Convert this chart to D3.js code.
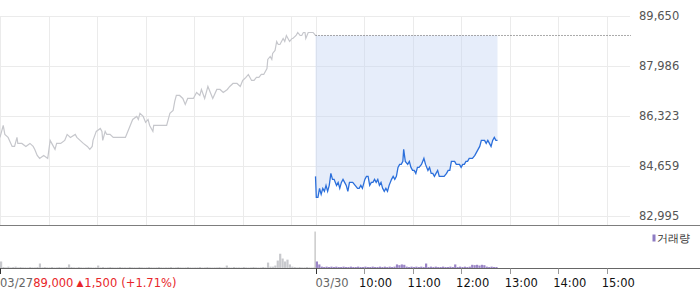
<!DOCTYPE html>
<html>
<head>
<meta charset="utf-8">
<script src="https://cdn.jsdelivr.net/npm/d3@7"></script>
<style>
  body { margin: 0; background: #fff; }
  text { font-family: "DejaVu Sans", sans-serif; }
</style>
</head>
<body>
<svg id="chart"></svg>
<script>
// intraday price chart, two sessions (03/27 and 03/30) with volume below

// DATA
// minutes after 9:00 for each session, and price at that minute
let day1Min = [0,4,6,10,15,18,21,22,27,32,37,41,43,46,49,54,59,62,64,68,70,75,80,83,87,93,95,99,103,108,111,114,115,119,124,126,127,130,132,136,140,145,152,155,158,161,164,169,171,173,177,180,183,185,189,190,194,198,206,208,210,214,216,218,222,226,229,232,239,243,247,249,253,257,260,263,268,272,276,281,284,288,293,297,300,304,307,309,311,314,317,320,323,326,330,331,334,336,337,340,342,344,346,350,352,354,356,358,361,362,366,368,371,373,375,377,378,381,384,387,390];
let day1Price = [85600,86000,85700,85600,85300,85300,85600,85400,85400,85300,85400,85300,85200,85000,84900,85000,84900,85500,85400,85200,85400,85400,85500,85700,85600,85700,85600,85500,85400,85300,85200,85300,85500,85800,85900,85800,85500,85800,85700,85700,85600,85600,85600,85600,85800,86000,86200,86300,86200,86400,86300,86100,86200,86000,85800,86000,86000,86000,86000,86200,86400,86500,86800,87000,87000,86900,86700,86900,86900,87100,87000,87200,86900,87300,87100,86900,87200,87200,87100,87200,87300,87400,87400,87300,87500,87600,87700,87600,87500,87500,87600,87600,87700,87700,87900,88200,88300,88200,88400,88500,88800,88700,88700,88900,88800,89000,88900,88800,88900,88900,89000,89100,89000,89000,89100,89100,88900,89100,89100,89100,89000];

let day2Min = [0,1,3,5,7,9,11,13,15,17,19,21,23,26,28,30,32,34,36,38,40,42,46,49,52,54,56,58,61,63,65,67,69,71,73,75,77,79,81,83,85,87,89,91,94,96,98,100,102,104,106,108,109,111,114,116,118,120,122,124,126,128,131,134,136,139,141,143,145,147,149,151,153,156,159,162,164,166,168,172,174,178,180,182,184,186,188,190,192,194,197,199,201,203,205,207,209,211,213,215,217,219,221,223,225];
let day2Price = [84300,83600,83600,83900,83700,83900,83800,84000,83800,84000,84400,84200,84200,84000,84100,83900,84100,84200,84100,84000,83800,84100,84100,84000,83900,83900,84000,83900,84200,84300,84300,84000,84100,84100,84200,84100,84200,84000,84100,83900,83800,83900,83800,84000,84200,84300,84200,84300,84600,84700,84700,84800,85200,84800,84700,84800,84600,84500,84500,84400,84600,84600,84700,84900,84700,84500,84600,84400,84400,84300,84400,84500,84300,84300,84300,84400,84500,84500,84800,84800,84700,84700,84600,84700,84700,84800,84800,84900,84900,84900,85000,85100,85200,85300,85500,85500,85500,85400,85500,85400,85300,85500,85600,85500,85500];

// volume (thousand shares), one bar per 3 minutes
let volStep = 3;
let day1Vol = [190,40,30,50,30,40,50,30,40,30,30,27,40,30,30,40,135,30,40,30,30,40,27,30,40,30,30,40,110,40,30,27,40,30,27,30,40,30,27,30,80,30,40,27,30,40,30,27,30,40,30,30,27,40,30,30,27,40,30,27,30,40,30,27,30,40,30,27,30,30,40,27,30,40,30,27,30,40,30,27,30,30,40,27,30,40,30,27,30,30,40,27,30,80,30,27,40,30,30,27,40,30,27,30,40,30,27,30,40,30,160,50,50,80,215,400,270,190,240,110,50,40,30,40,30,30,40,30,27,30,1000];
let day2Vol = [190,110,50,40,50,40,50,40,50,40,40,50,40,40,50,40,40,50,40,40,50,40,40,50,40,40,50,40,50,40,50,40,50,110,90,110,100,50,40,50,40,50,40,50,40,135,40,50,40,50,40,40,50,40,40,50,40,110,40,50,40,50,40,50,100,90,100,80,100,90,50,40,50,40,40];

// tick labels
let yTicks = [89650, 87986, 86323, 84659, 82995];
let prevClose = 89000;
let hourMarks = [60, 120, 180, 240, 300, 360];
let hourLabels = ["10:00", "11:00", "12:00", "13:00", "14:00", "15:00"];
let dayLabels = ["03/27", "03/30"];
let changeText = ["89,000", "\u25B2", "1,500", "(+1.71%)"];
let volLegend = "거래량";

// INTRO: svg window
let win = {w: 700, h: 289};
let svg = d3.select("#chart").attr("width", win.w).attr("height", win.h);

// colors
let gridColor = "#ebebeb";
let grayLine = "#c6c7cc";
let blueLine = "#2b6fdb";
let purpleBar = "#9b86c7";

// layout
let plot = {left: 0, right: 631, top: 16, bottom: 215.5};
let volPanel = {top: 226, bottom: 268.5};
let sessionLen = 390;

let x = d3.scaleLinear().domain([0, 2 * sessionLen]).range([plot.left, plot.right]);
let y = d3.scaleLinear().domain([82995, 89650]).range([plot.bottom, plot.top]);
let yVol = d3.scaleLinear().domain([0, 1150]).range([volPanel.bottom, volPanel.top]);

let day1 = day1Min.map((m, i) => ({t: m, p: day1Price[i]}));
let day2 = day2Min.map((m, i) => ({t: sessionLen + m, p: day2Price[i]}));

// gridlines
let g = svg.append("g");
g.selectAll(".hgrid")
  .data(yTicks)
  .enter()
  .append("line")
  .attr("x1", plot.left).attr("x2", 630)
  .attr("y1", d => Math.round(y(d)) + 0.5).attr("y2", d => Math.round(y(d)) + 0.5)
  .attr("stroke", gridColor);

let vgrid = [0].concat(hourMarks, [sessionLen], hourMarks.map(h => sessionLen + h));
g.selectAll(".vgrid")
  .data(vgrid)
  .enter()
  .append("line")
  .attr("x1", d => Math.round(x(d)) + 0.5).attr("x2", d => Math.round(x(d)) + 0.5)
  .attr("y1", plot.top).attr("y2", 225)
  .attr("stroke", gridColor);

// blue fill between previous close and today's line
svg.append("path")
  .datum(day2)
  .attr("d", d3.area().x(d => x(d.t)).y0(y(prevClose)).y1(d => y(d.p)))
  .attr("fill", "rgba(196,213,242,0.42)");

// previous close dotted line
svg.append("line")
  .attr("x1", x(sessionLen)).attr("x2", plot.right)
  .attr("y1", y(prevClose)).attr("y2", y(prevClose))
  .attr("stroke", "#555")
  .attr("stroke-dasharray", "1,2");

let line = d3.line().x(d => x(d.t)).y(d => y(d.p));
svg.append("path").datum(day1).attr("d", line)
  .attr("fill", "none").attr("stroke", grayLine).attr("stroke-width", 1.2);
svg.append("path").datum(day2).attr("d", line)
  .attr("fill", "none").attr("stroke", blueLine).attr("stroke-width", 1.3);

// y labels
svg.selectAll(".ylab")
  .data(yTicks)
  .enter()
  .append("text")
  .attr("x", 639)
  .attr("y", d => y(d))
  .attr("dominant-baseline", "central")
  .attr("font-size", 11.5)
  .attr("fill", "#555")
  .text(d => d3.format(",")(d));

// separator between price and volume
svg.append("line")
  .attr("x1", 0).attr("x2", win.w).attr("y1", 225.5).attr("y2", 225.5)
  .attr("stroke", "#7d7d7d");

// VOLUME
let barW = 2.2;
svg.selectAll(".v1")
  .data(day1Vol)
  .enter()
  .append("rect")
  .attr("x", (d, i) => i === day1Vol.length - 1 ? x(i * volStep) - 1 : x(i * volStep))
  .attr("y", d => yVol(d))
  .attr("width", (d, i) => i === day1Vol.length - 1 ? 1.2 : barW)
  .attr("height", d => volPanel.bottom - yVol(d))
  .attr("fill", (d, i) => i === day1Vol.length - 1 ? "#bdbdbd" : "#c8c9cd");

svg.selectAll(".v2")
  .data(day2Vol)
  .enter()
  .append("rect")
  .attr("x", (d, i) => x(sessionLen + i * volStep) + 0.3)
  .attr("y", d => yVol(d))
  .attr("width", barW)
  .attr("height", d => volPanel.bottom - yVol(d))
  .attr("fill", purpleBar);

// legend
svg.append("rect")
  .attr("x", 652.5).attr("y", 234.5).attr("width", 3).attr("height", 7)
  .attr("fill", "#8e7cc3");
svg.append("text")
  .attr("x", 657).attr("y", 238)
  .attr("dominant-baseline", "central")
  .attr("font-size", 11).attr("fill", "#333")
  .text(volLegend);

// bottom axis
svg.append("line")
  .attr("x1", 0).attr("x2", win.w).attr("y1", 268.5).attr("y2", 268.5)
  .attr("stroke", "#666");

let tickX = [0, sessionLen].concat(hourMarks.map(h => sessionLen + h));
svg.selectAll(".tick")
  .data(tickX)
  .enter()
  .append("line")
  .attr("x1", d => Math.round(x(d)) + 0.5).attr("x2", d => Math.round(x(d)) + 0.5)
  .attr("y1", 268.5).attr("y2", 274)
  .attr("stroke", (d, i) => i < 2 ? "#333" : "#999");

let bottomY = 283;
let t1 = svg.append("text")
  .attr("x", 0).attr("y", bottomY)
  .attr("dominant-baseline", "central")
  .attr("font-size", 11.5);
t1.append("tspan").attr("fill", "#666").text(dayLabels[0]);
t1.append("tspan").attr("fill", "#e8262a").text(changeText[0]);
t1.append("tspan").attr("fill", "#e8262a").attr("font-size", 9).attr("dx", 3).text(changeText[1]);
t1.append("tspan").attr("fill", "#e8262a").attr("dx", 1).text(changeText[2]);
t1.append("tspan").attr("fill", "#e8262a").attr("dx", 4).text(changeText[3]);

svg.append("text")
  .attr("x", x(sessionLen)).attr("y", bottomY)
  .attr("dominant-baseline", "central")
  .attr("font-size", 11.5).attr("fill", "#666")
  .text(dayLabels[1]);

svg.selectAll(".hlab")
  .data(hourMarks)
  .enter()
  .append("text")
  .attr("x", d => x(sessionLen + d) - 5)
  .attr("y", bottomY)
  .attr("dominant-baseline", "central")
  .attr("font-size", 11.5).attr("fill", "#111")
  .text((d, i) => hourLabels[i]);
</script>
</body>
</html>
